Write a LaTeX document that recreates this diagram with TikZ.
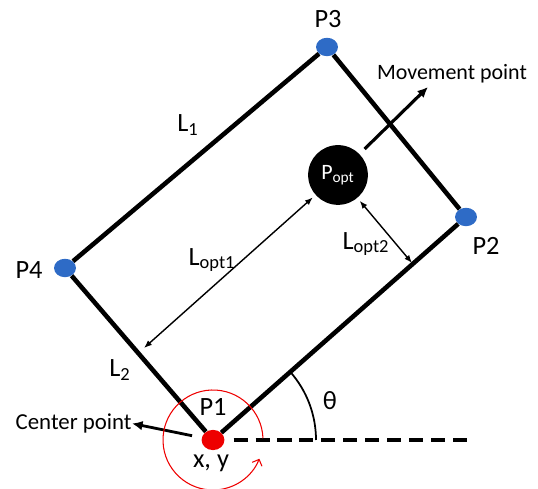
\documentclass[tikz,border=0pt]{standalone}
\usepackage{fontspec}
\setmainfont{Carlito}
\usetikzlibrary{arrows.meta, shapes.geometric}
\definecolor{dotblue}{HTML}{2E6BC6}
\definecolor{dotred}{HTML}{EE0000}

\begin{document}
\begin{tikzpicture}[
    x=0.02cm, y=0.02cm,
    >=Latex,
    big/.style={font=\fontsize{15}{18}\selectfont, inner sep=0pt},
    small/.style={font=\fontsize{12.5}{15}\selectfont, inner sep=0pt},
    corner/.style={ellipse, fill=dotblue, minimum width=12.5pt, minimum height=10.5pt, inner sep=0pt},
    side/.style={line width=2.6pt},
    dim/.style={<->, line width=0.8pt, >={Latex[length=4.5pt, width=3.5pt]}},
    pointer/.style={->, line width=1.8pt, >={Latex[length=6pt, width=5.5pt]}}
]

\useasboundingbox (0,0) rectangle (538,489);

% corner points
\node[corner, fill=dotred, minimum width=13pt, minimum height=11.5pt] (p1) at (213,49) {};
\node[corner] (p2) at (466,272) {};
\node[corner] (p3) at (327,442) {};
\node[corner] (p4) at (65,221) {};

% optimal point
\node[circle, fill=black, minimum size=34pt, inner sep=0pt, text=white, font=\fontsize{12.5}{15}\selectfont] (popt) at (338,314) {P\textsubscript{opt}};

% rectangle sides
\draw[side] (p1) -- (p2) -- (p3) -- (p4) -- (p1);

% corner labels
\node[big] (p1lbl) at (213,82) {P1};
\node[big] (p2lbl) at (486,243) {P2};
\node[big] (p3lbl) at (328,470) {P3};
\node[big] (p4lbl) at (29,219) {P4};
\node[big] (xylbl) at (211,26) {x, y};

% side labels
\node[big] (l1lbl) at (188,364) {L\textsubscript{1}};
\node[big] (l2lbl) at (120,119) {L\textsubscript{2}};

% distances to the sides
\coordinate (lopt1end) at (144,141);
\coordinate (lopt2end) at (412,226);
\draw[dim, shorten <=2pt] (popt) -- (lopt1end);
\draw[dim, shorten <=2pt] (popt) -- (lopt2end);
\node[big] (lopt1lbl) at (212,229) {L\textsubscript{opt1}};
\node[big] (lopt2lbl) at (366,245) {L\textsubscript{opt2}};

% movement point
\coordinate (movetip) at (428,402);
\draw[pointer, shorten <=4pt] (popt) -- (movetip);
\node[small] (movelbl) at (452,415) {Movement point};

% center point
\node[small, font=\fontsize{13}{15}\selectfont, anchor=east] (cptlbl) at (132,65.5) {Center point};
\draw[pointer, line width=1.6pt, shorten <=5.5pt] (p1) -- (cptlbl.east);

% horizontal axis and angle
\coordinate (xaxis) at (473,49);
\draw[line width=2.4pt, dash pattern=on 8pt off 4.5pt, shorten <=5pt] (p1) -- (xaxis);
\draw[line width=1pt] (p1.center) ++(0:103) arc[start angle=0, end angle=41.4, radius=103];
\node[big] (thetalbl) at (330,88) {θ};

% rotation about P1
\draw[dotred, line width=0.6pt, -{Straight Barb[length=3pt, width=6pt]}] (p1.center) ++(2:50) arc[start angle=2, end angle=338, radius=50];

\end{tikzpicture}
\end{document}
